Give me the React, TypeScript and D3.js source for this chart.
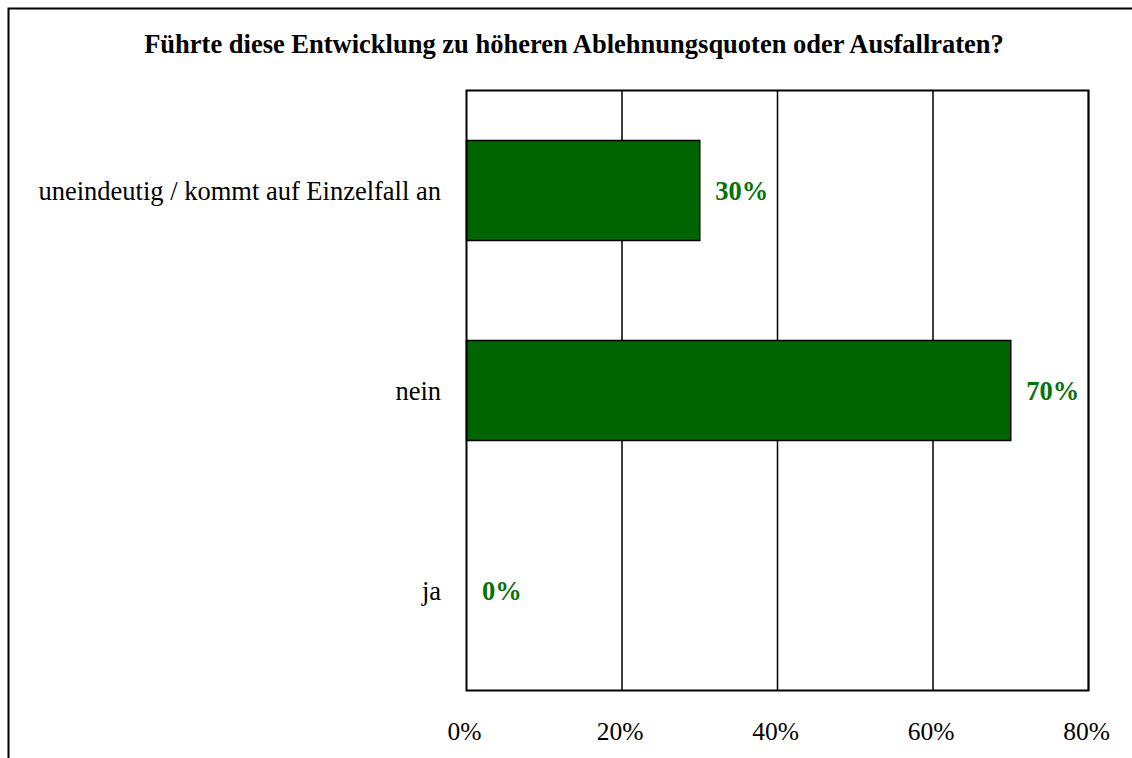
import React from "react";
import * as d3 from "d3";

const title = "Führte diese Entwicklung zu höheren Ablehnungsquoten oder Ausfallraten?";
const categories = ["uneindeutig / kommt auf Einzelfall an", "nein", "ja"];
const values = [30, 70, 0];
const xTicks = [0, 20, 40, 60, 80];

const W = 1132;
const H = 758;
const plot = { left: 466.5, right: 1088.5, top: 90.5, bottom: 690.5 };
const FONT = "'Liberation Serif', 'Times New Roman', serif";
const BAR = "#006400";
const LABEL = "#067306";

export default function App() {
  const x = d3.scaleLinear().domain([0, 80]).range([plot.left, plot.right]);
  const y = d3.scaleBand<string>().domain(categories).range([plot.top, plot.bottom]).paddingInner(0.5).paddingOuter(0.25);
  return (
    <svg width={W} height={H} style={{ position: "absolute", left: 0, top: 0, display: "block" }}>
      <rect x={0} y={0} width={W} height={H} fill="#fff" />
      <rect x={8.5} y={8.5} width={W + 20} height={H + 20} fill="none" stroke="#000" strokeWidth={2} />
      <text x={574} y={53} textAnchor="middle" fontFamily={FONT} fontSize={26.5} fontWeight="bold" fill="#000">{title}</text>
      {xTicks.slice(1).map((t) => (
        <line key={t} x1={x(t)} x2={x(t)} y1={plot.top} y2={plot.bottom} stroke="#000" strokeWidth={1.5} />
      ))}
      {categories.map((c, i) => (
        <g key={c}>
          {values[i] > 0 && (
            <rect x={x(0)} y={y(c)!} width={x(values[i]) - x(0)} height={y.bandwidth()} fill={BAR} stroke="#000" strokeWidth={1.5} />
          )}
          <text x={441} y={y(c)! + y.bandwidth() / 2 + 9} textAnchor="end" fontFamily={FONT} fontSize={26.5} fill="#000">{c}</text>
          <text x={x(values[i]) + 15.5} y={y(c)! + y.bandwidth() / 2 + 9} fontFamily={FONT} fontSize={26.5} fontWeight="bold" fill={LABEL}>{values[i] + "%"}</text>
        </g>
      ))}
      <rect x={plot.left} y={plot.top} width={plot.right - plot.left} height={plot.bottom - plot.top} fill="none" stroke="#000" strokeWidth={2} />
      {xTicks.map((t) => (
        <text key={t} x={x(t) - 2} y={740} textAnchor="middle" fontFamily={FONT} fontSize={25.5} fill="#000">{t + "%"}</text>
      ))}
    </svg>
  );
}
